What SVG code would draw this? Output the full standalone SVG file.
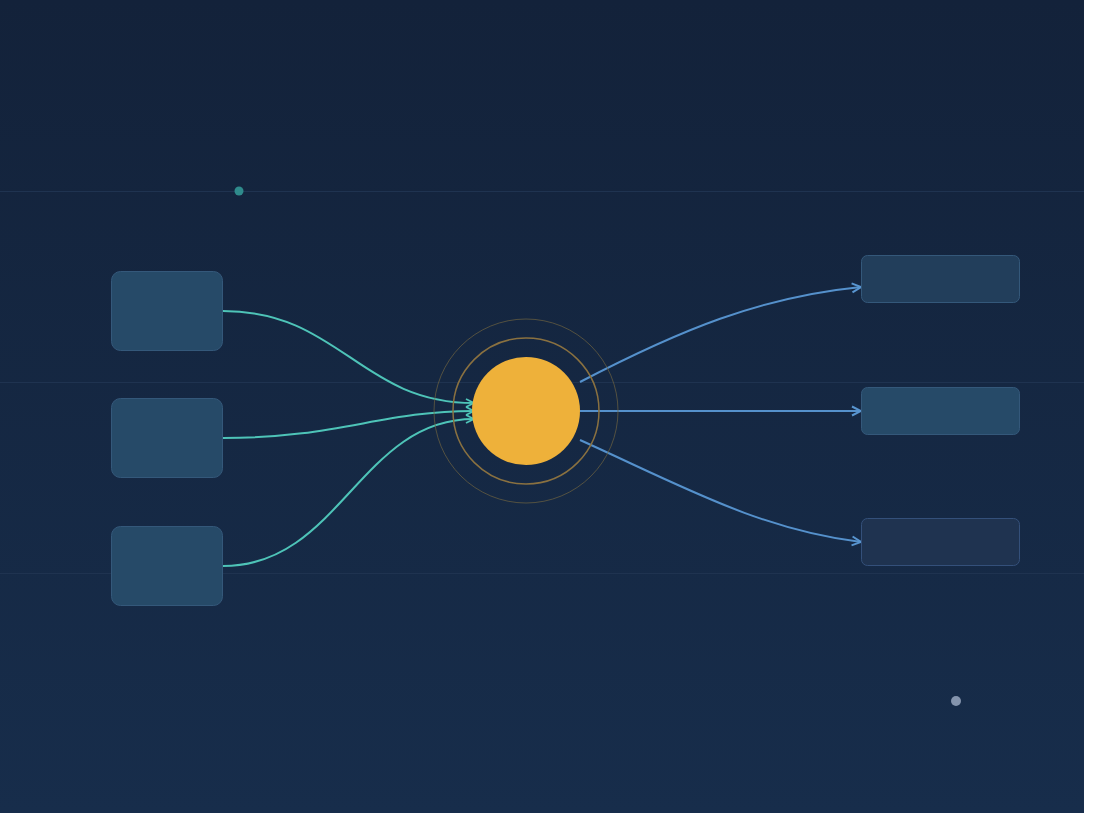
<svg xmlns="http://www.w3.org/2000/svg" width="1100" height="829" viewBox="0 0 1100 829">
  <defs>
    <linearGradient id="bg" x1="0" y1="0" x2="0" y2="1">
      <stop offset="0" stop-color="#13223a"/>
      <stop offset="1" stop-color="#172d4b"/>
    </linearGradient>
    <marker id="ah-teal" viewBox="0 0 10 10" refX="9" refY="5" markerWidth="10" markerHeight="10" markerUnits="userSpaceOnUse" orient="auto">
      <path d="M1,1 L9,5 L1,9" fill="none" stroke="#4ec4b8" stroke-width="1.8"/>
    </marker>
    <marker id="ah-blue" viewBox="0 0 12 12" refX="11" refY="6" markerWidth="12" markerHeight="12" markerUnits="userSpaceOnUse" orient="auto">
      <path d="M2,1.5 L11,6 L2,10.5" fill="none" stroke="#5895d0" stroke-width="2"/>
    </marker>
  </defs>
  <style>
    .grid { stroke: #1f3350; stroke-width: 1; }
    .src { fill: #264a68; stroke: #34587a; stroke-width: 1; }
    .in { fill: none; stroke: #4ec4b8; stroke-width: 2; marker-end: url(#ah-teal); }
    .out { fill: none; stroke: #5591cc; stroke-width: 2; marker-end: url(#ah-blue); }
  </style>
  <rect x="0" y="0" width="1100" height="829" fill="#ffffff"/>
  <rect x="0" y="0" width="1084" height="813" fill="url(#bg)"/>
  <g id="grid">
    <line class="grid" x1="0" y1="191.5" x2="1084" y2="191.5"/>
    <line class="grid" x1="0" y1="382.5" x2="1084" y2="382.5"/>
    <line class="grid" x1="0" y1="573.5" x2="1084" y2="573.5"/>
  </g>
  <circle id="dot1" cx="239" cy="191" r="4.5" fill="#2f8b8c"/>
  <circle id="dot2" cx="956" cy="701" r="5" fill="#8494ad"/>
  <g id="connectors">
    <path class="in" d="M223,311 C340,311 360,403 474,403"/>
    <path class="in" d="M223,438 C340,438 380,411 474,411"/>
    <path class="in" d="M223,566 C340,566 360,419 474,419"/>
    <path class="out" d="M580,382 C680,330 760,297 861,287"/>
    <path class="out" d="M580,411 L861,411"/>
    <path class="out" d="M580,440 C680,485 760,530 861,542"/>
  </g>
  <g id="hub">
    <circle cx="526" cy="411" r="92" fill="none" stroke="#6e6240" stroke-opacity="0.7" stroke-width="1"/>
    <circle cx="526" cy="411" r="73" fill="none" stroke="#8a7140" stroke-width="1.5"/>
    <circle cx="526" cy="411" r="54" fill="#eeb13a"/>
  </g>
  <g id="src1"><rect class="src" x="111.5" y="271.5" width="111" height="79" rx="9"/></g>
  <g id="src2"><rect class="src" x="111.5" y="398.5" width="111" height="79" rx="9"/></g>
  <g id="src3"><rect class="src" x="111.5" y="526.5" width="111" height="79" rx="9"/></g>
  <g id="dst1"><rect x="861.5" y="255.5" width="158" height="47" rx="6" fill="#223e5b" stroke="#34587a"/></g>
  <g id="dst2"><rect x="861.5" y="387.5" width="158" height="47" rx="6" fill="#264a68" stroke="#34587a"/></g>
  <g id="dst3"><rect x="861.5" y="518.5" width="158" height="47" rx="6" fill="#1f3350" stroke="#34507a"/></g>
</svg>
